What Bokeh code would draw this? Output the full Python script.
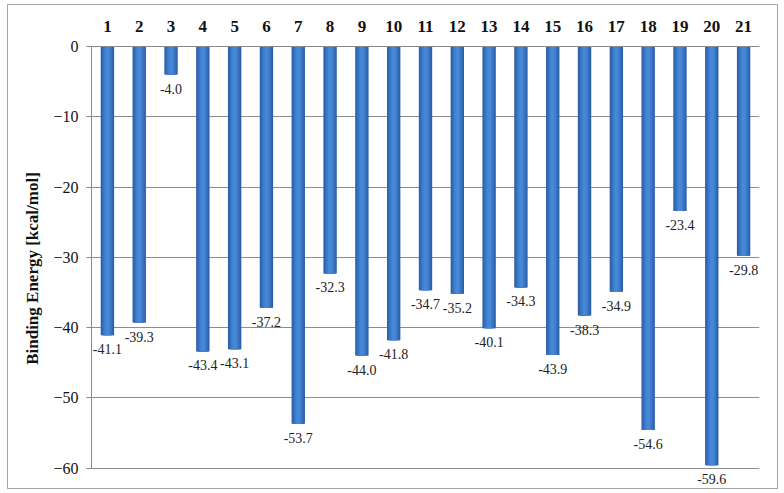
from bokeh.plotting import figure
from bokeh.models import ColumnDataSource, FixedTicker, Range1d
from bokeh.core.properties import value
from bokeh.embed import file_html
from bokeh.resources import INLINE

categories = [str(i) for i in range(1, 22)]
energies = [-41.1, -39.3, -4.0, -43.4, -43.1, -37.2, -53.7, -32.3, -44.0, -41.8,
            -34.7, -35.2, -40.1, -34.3, -43.9, -38.3, -34.9, -54.6, -23.4, -59.6, -29.8]
y_ticks = [0, -10, -20, -30, -40, -50, -60]

src = ColumnDataSource(dict(x=categories, y=energies,
                            lab=["%.1f" % v for v in energies]))

p = figure(x_range=categories, y_range=Range1d(-63.2, 0), width=771, height=485,
           output_backend="svg", toolbar_location=None, x_axis_location="above",
           min_border_left=83, min_border_right=20, min_border_top=41, min_border_bottom=0)
p.styles = {"border": "1px solid #a6a6a6", "margin-left": "7px", "margin-top": "4px"}
p.outline_line_color = None

# bars with a simple banded gradient (dark edges, lighter centre)
layers = [(0.42, "#2c5ca4"), (0.36, "#3267b4"), (0.29, "#3872c2"),
          (0.21, "#3e7dcc"), (0.12, "#4688d6")]
for w, c in layers:
    p.vbar(x="x", top=0, bottom="y", width=w, source=src, fill_color=c, line_color=None)

p.text(x="x", y="y", text="lab", source=src, text_align="center", text_baseline="top",
       y_offset=9, text_font=value("Liberation Serif"), text_font_size="14px",
       text_color="#222222")

# x axis (top)
xa = p.xaxis[0]
xa.major_label_text_font = "Liberation Serif"
xa.major_label_text_font_style = "bold"
xa.major_label_text_font_size = "17px"
xa.major_label_text_color = "#111111"
xa.major_tick_line_color = None
xa.major_tick_out = 0
xa.major_label_standoff = 15
xa.axis_line_color = "#888888"

# y axis
ya = p.yaxis[0]
ya.ticker = FixedTicker(ticks=y_ticks)
ya.bounds = (-60, 0)
ya.axis_label = "Binding Energy [kcal/mol]"
ya.axis_label_text_font = "Liberation Serif"
ya.axis_label_text_font_style = "bold"
ya.axis_label_text_font_size = "17px"
ya.axis_label_text_color = "#111111"
ya.axis_label_standoff = 8
ya.major_label_text_font = "Liberation Serif"
ya.major_label_text_font_size = "16px"
ya.major_label_text_color = "#111111"
ya.major_label_standoff = 8
ya.axis_line_color = "#888888"
ya.major_tick_line_color = "#888888"
ya.major_tick_out = 5
ya.major_tick_in = 0
ya.minor_tick_line_color = None

p.xgrid.grid_line_color = None
p.ygrid.grid_line_color = "#8c8c8c"
p.ygrid.ticker = FixedTicker(ticks=y_ticks)

open("out.html", "w").write(file_html(p, INLINE))
